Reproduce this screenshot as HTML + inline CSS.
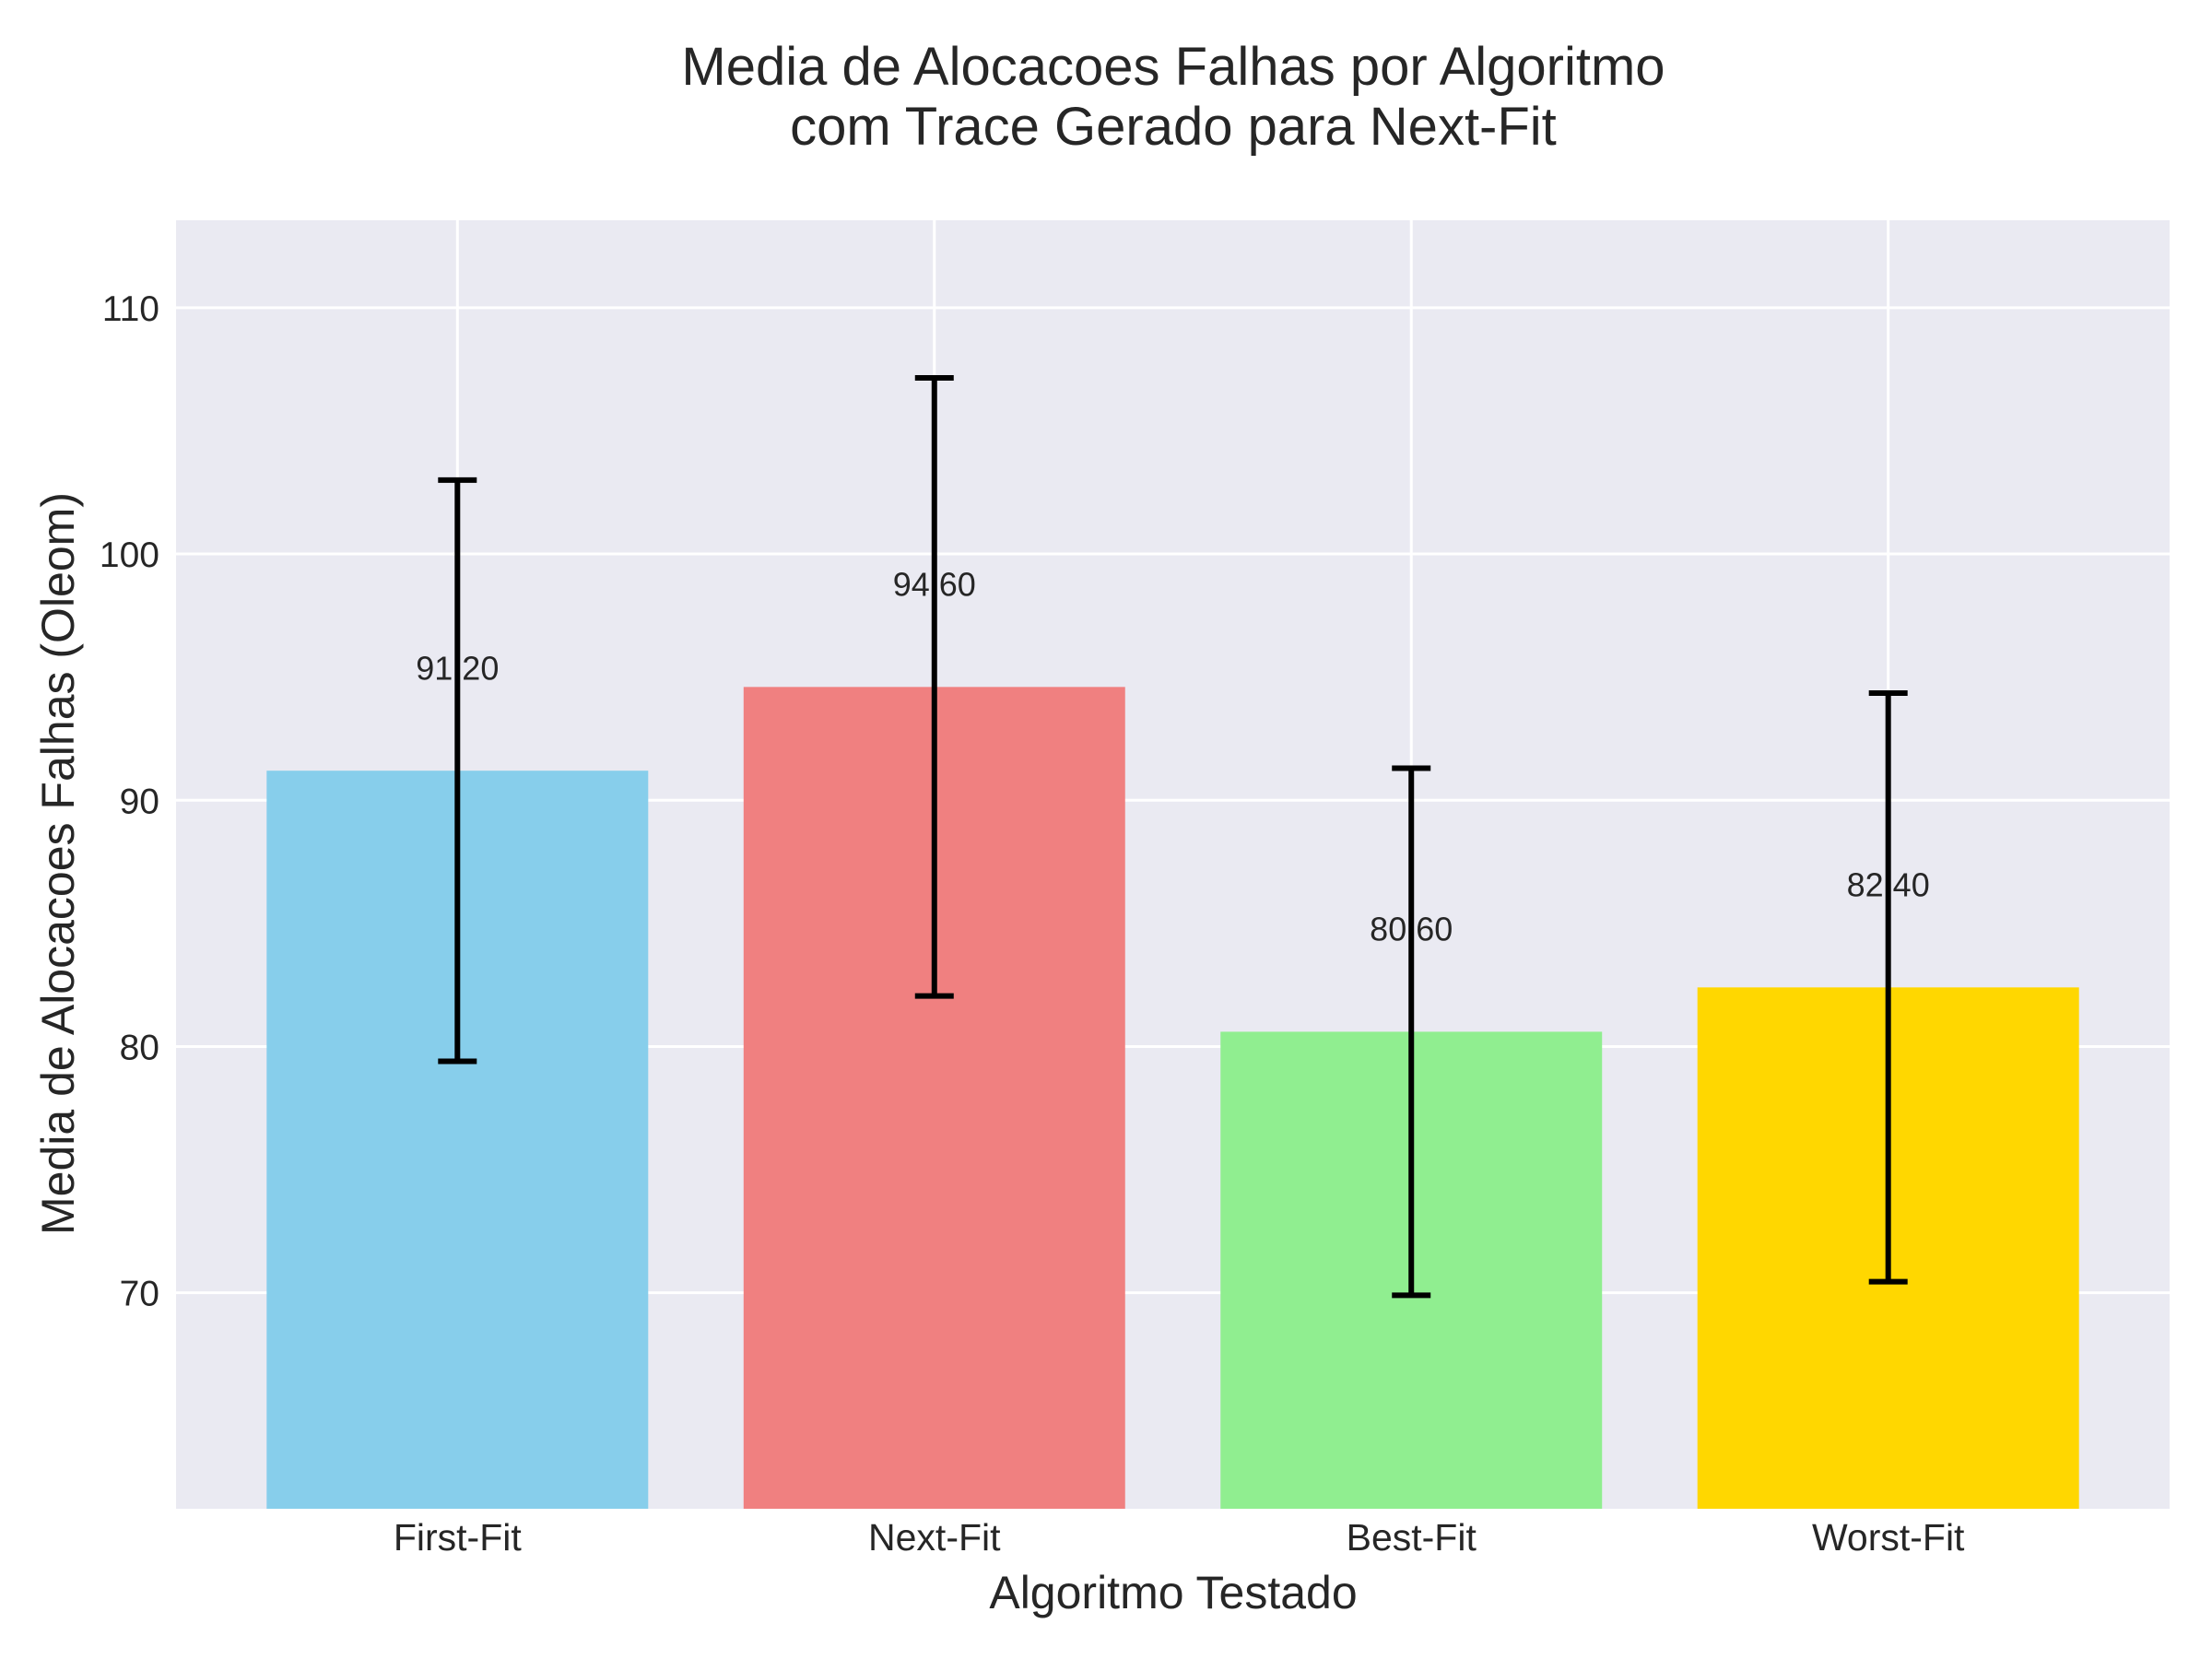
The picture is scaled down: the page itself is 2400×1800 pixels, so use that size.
<!DOCTYPE html>
<html><head><meta charset="utf-8"><style>
html,body{margin:0;padding:0;background:#fff;}
svg{display:block;font-family:"Liberation Sans",sans-serif;}
</style></head><body>
<svg id="chart" width="2400" height="1800" viewBox="0 0 2400 1800">
<rect x="191" y="239" width="2163" height="1398" fill="#eaeaf2"/>
<g id="grid"></g><g id="bars"></g><g id="labels"></g><g id="errs"></g><g id="ticks"></g>
<text x="1273" y="92" text-anchor="middle" font-size="58" fill="#262626">Media de Alocacoes Falhas por Algoritmo</text>
<text x="1273" y="157" text-anchor="middle" font-size="58" fill="#262626">com Trace Gerado para Next-Fit</text>
<text x="1273" y="1745" text-anchor="middle" font-size="50" fill="#262626">Algoritmo Testado</text>
<text transform="translate(80,937) rotate(-90)" text-anchor="middle" font-size="50" fill="#262626">Media de Alocacoes Falhas (Oleom)</text>
</svg>
<script>
const categories = ["First-Fit","Next-Fit","Best-Fit","Worst-Fit"];
const values = [91.2, 94.6, 80.6, 82.4];
const errors = [11.8, 12.55, 10.7, 11.95];
const valueLabels = ["91.20","94.60","80.60","82.40"];
const colors = ["#87ceeb","#f08080","#90ee90","#ffd700"];
const yTicks = [70, 80, 90, 100, 110];

const NS="http://www.w3.org/2000/svg";
const L=191,R=2354,T=239,B=1637;
const yMin=61.23,yMax=113.55;
const xMin=-0.59,xMax=3.59;
function y(v){return B-(v-yMin)/(yMax-yMin)*(B-T);}
function x(i){return L+(i-xMin)/(xMax-xMin)*(R-L);}
const barW=(R-L)/(xMax-xMin)*0.8;
function mk(tag,attrs,parent){const e=document.createElementNS(NS,tag);for(const k in attrs)e.setAttribute(k,attrs[k]);document.getElementById(parent).appendChild(e);return e;}

yTicks.forEach((t,i)=>{
  const g=mk("line",{x1:L,x2:R,y1:y(t),y2:y(t),stroke:"#fff","stroke-width":3},"grid");
  
  
  const tx=mk("text",{x:173,y:y(t)+14,"text-anchor":"end","font-size":39,fill:"#262626"},"ticks");
  tx.textContent=t;
  
  
});
categories.forEach((c,i)=>{
  const g=mk("line",{x1:x(i),x2:x(i),y1:T,y2:B,stroke:"#fff","stroke-width":3},"grid");
  
  
  const b=mk("rect",{x:x(i)-barW/2,y:y(values[i]),width:barW,height:B-y(values[i]),fill:colors[i]},"bars");
  
  
  const top=y(values[i]+errors[i]),bot=y(values[i]-errors[i]);
  const v=mk("line",{x1:x(i),x2:x(i),y1:top,y2:bot,stroke:"#000","stroke-width":6},"errs");
  
  
  [top,bot].forEach(yy=>{
    const cp=mk("line",{x1:x(i)-21,x2:x(i)+21,y1:yy,y2:yy,stroke:"#000","stroke-width":6},"errs");
    
    
  });
  const lb=mk("text",{x:x(i),y:y(values[i]+3.7),"text-anchor":"middle","font-size":36,fill:"#262626"},"labels");
  lb.textContent=valueLabels[i];
  
  
  const tk=mk("text",{x:x(i),y:1682,"text-anchor":"middle","font-size":41,fill:"#262626"},"ticks");
  tk.textContent=c;
  
  
});
</script>
</body></html>
